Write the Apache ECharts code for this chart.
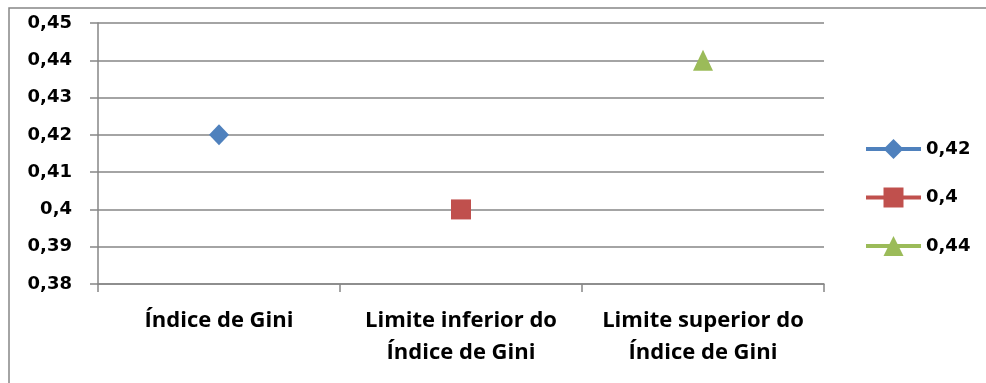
<!DOCTYPE html>
<html>
<head>
<meta charset="utf-8">
<script src="https://cdn.jsdelivr.net/npm/echarts@6/dist/echarts.min.js"></script>
<style>
  html, body { margin: 0; padding: 0; background: #fff; }
  #chart { width: 986px; height: 383px; }
</style>
</head>
<body>
<div id="chart"></div>
<script>
// Categories along the x axis
const categories = ['Índice de Gini', 'Limite inferior do\nÍndice de Gini', 'Limite superior do\nÍndice de Gini'];
// One series per category, each named after its value
const seriesNames = ['0,42', '0,4', '0,44'];
const seriesValues = [0.42, 0.40, 0.44];
const seriesColors = ['#4F81BD', '#C0504D', '#9BBB59'];
const seriesSymbols = ['diamond', 'rect', 'triangle'];
// Y axis tick labels from 0.38 to 0.45
const yTickLabels = ['0,38', '0,39', '0,4', '0,41', '0,42', '0,43', '0,44', '0,45'];
const yMin = 0.38, yMax = 0.45, yStep = 0.01;

const gridColor = '#868686';
const numFont = 'DejaVu Sans';
const catFont = 'Open Sans';

const series = seriesNames.map((name, i) => ({
  name: name,
  type: 'line',
  data: categories.map((_, j) => (j === i ? seriesValues[i] : null)),
  symbol: seriesSymbols[i],
  symbolSize: seriesSymbols[i] === 'rect' ? 20 : [20, 21],
  showSymbol: true,
  showAllSymbol: true,
  itemStyle: { color: seriesColors[i] },
  lineStyle: { color: seriesColors[i], width: 4 },
  emphasis: { disabled: true },
  animation: false
}));

const chart = echarts.init(document.getElementById('chart'), null, { renderer: 'canvas' });
chart.setOption({
  backgroundColor: '#ffffff',
  animation: false,
  graphic: [{
    type: 'rect',
    z: -10,
    shape: { x: 9, y: 8, width: 1000, height: 400 },
    style: { fill: 'none', stroke: gridColor, lineWidth: 1.5 }
  }],
  grid: { left: 98, right: 162, top: 23, bottom: 99, containLabel: false },
  xAxis: {
    type: 'category',
    data: categories,
    boundaryGap: true,
    axisLine: { show: true, lineStyle: { color: gridColor, width: 1.5 } },
    axisTick: { show: true, length: 8, alignWithLabel: false, lineStyle: { color: gridColor, width: 1.5 } },
    axisLabel: {
      margin: 21,
      color: '#000',
      fontFamily: catFont,
      fontWeight: 'bold',
      fontSize: 22,
      lineHeight: 32,
      interval: 0
    },
    splitLine: { show: false }
  },
  yAxis: {
    type: 'value',
    min: yMin,
    max: yMax,
    interval: yStep,
    axisLine: { show: true, lineStyle: { color: gridColor, width: 1.5 } },
    axisTick: { show: true, length: 8, inside: false, lineStyle: { color: gridColor, width: 1.5 } },
    axisLabel: {
      margin: 26,
      color: '#000',
      fontFamily: numFont,
      fontWeight: 'bold',
      fontSize: 18,
      padding: [5, 0, 0, 0],
      formatter: v => yTickLabels[Math.round((v - yMin) / yStep)]
    },
    splitLine: { show: true, lineStyle: { color: gridColor, width: 1.5 } }
  },
  legend: {
    orient: 'vertical',
    left: 864,
    top: 139,
    itemWidth: 55,
    itemHeight: 25,
    itemGap: 28.5,
    padding: 0,
    data: seriesNames,
    lineStyle: { width: 4 },
    textStyle: { color: '#000', fontFamily: numFont, fontWeight: 'bold', fontSize: 18 },
    selectedMode: false
  },
  series: series
});
</script>
</body>
</html>
